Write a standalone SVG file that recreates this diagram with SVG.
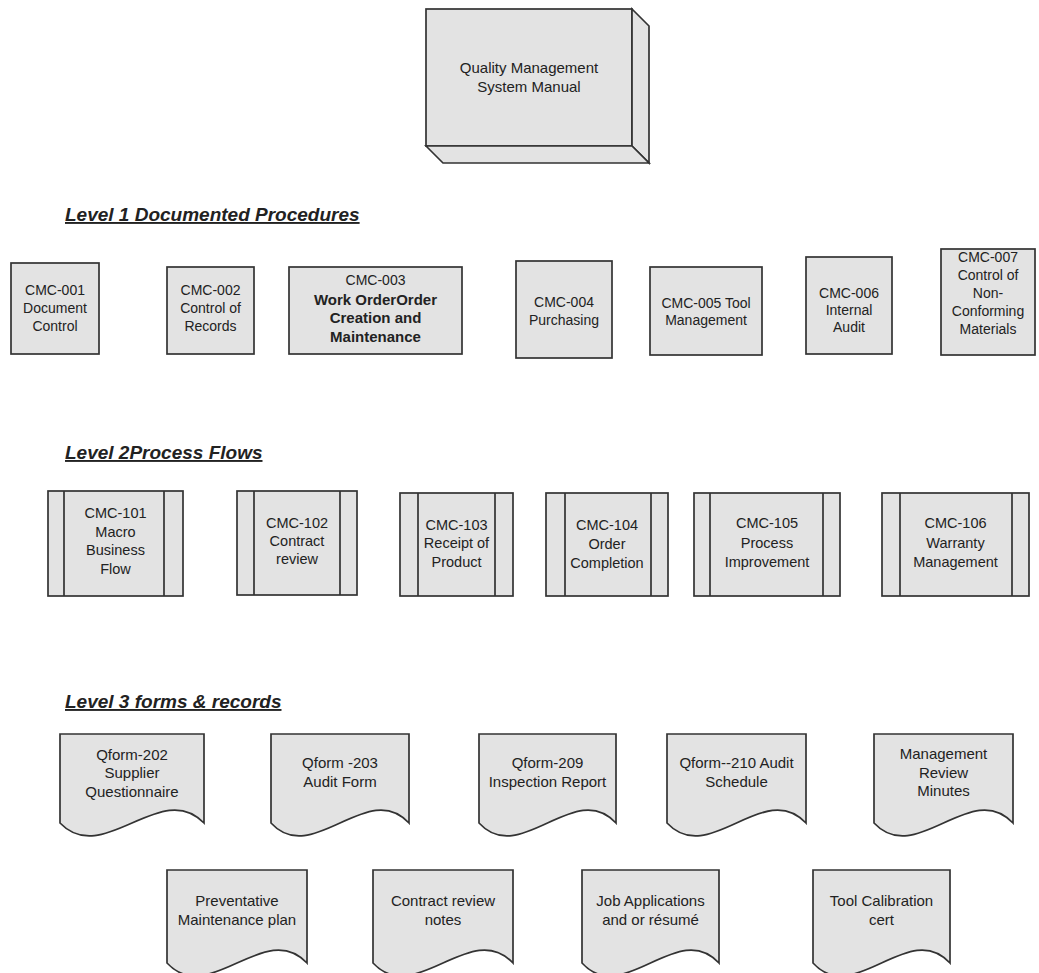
<svg xmlns="http://www.w3.org/2000/svg" width="1039" height="973" viewBox="0 0 1039 973">
<style>
.bx{fill:#e3e3e3;stroke:#333;stroke-width:1.7}
.ln{fill:none;stroke:#333;stroke-width:1.7}
.t{font-family:"Liberation Sans",Arial,sans-serif;font-size:14px;fill:#222;text-anchor:middle}
.m{font-size:14.5px}
.l{font-size:15px}
.b{font-weight:bold;font-size:15px}
.h{font-family:"Liberation Sans",Arial,sans-serif;font-size:19px;font-weight:bold;font-style:italic;fill:#222;text-decoration:underline}
</style>
<rect width="1039" height="973" fill="#fff"/>

<g id="manual">
<rect class="bx" x="426" y="9" width="206" height="137"/>
<polygon class="bx" points="632,9 649,26 649,163 632,146"/>
<polygon class="bx" points="426,146 443,163 649,163 632,146"/>
<text class="t l" x="529" y="73">Quality Management</text>
<text class="t l" x="529" y="92">System Manual</text>
</g>

<g id="headers">
<text class="h" x="65" y="221">Level 1 Documented Procedures</text>
<text class="h" x="65" y="459">Level 2Process Flows</text>
<text class="h" x="65" y="708">Level 3 forms &amp; records</text>
</g>

<g id="cmc001"><rect class="bx" x="11" y="263" width="88" height="91"/>
<text class="t" x="55" y="295">CMC-001</text><text class="t" x="55" y="313">Document</text><text class="t" x="55" y="331">Control</text></g>
<g id="cmc002"><rect class="bx" x="167" y="267" width="87" height="87"/>
<text class="t" x="210.5" y="295">CMC-002</text><text class="t" x="210.5" y="313">Control of</text><text class="t" x="210.5" y="331">Records</text></g>
<g id="cmc003"><rect class="bx" x="289" y="267" width="173" height="87"/>
<text class="t" x="375.5" y="285">CMC-003</text><text class="t b" x="375.5" y="305">Work OrderOrder</text><text class="t b" x="375.5" y="323">Creation and</text><text class="t b" x="375.5" y="342">Maintenance</text></g>
<g id="cmc004"><rect class="bx" x="516" y="261" width="96" height="97"/>
<text class="t" x="564" y="307">CMC-004</text><text class="t" x="564" y="325">Purchasing</text></g>
<g id="cmc005"><rect class="bx" x="650" y="267" width="112" height="88"/>
<text class="t" x="706" y="308">CMC-005 Tool</text><text class="t" x="706" y="325">Management</text></g>
<g id="cmc006"><rect class="bx" x="806" y="257" width="86" height="97"/>
<text class="t" x="849" y="298">CMC-006</text><text class="t" x="849" y="315">Internal</text><text class="t" x="849" y="332">Audit</text></g>
<g id="cmc007"><rect class="bx" x="941" y="249" width="94" height="106"/>
<text class="t" x="988" y="262">CMC-007</text><text class="t" x="988" y="280">Control of</text><text class="t" x="988" y="298">Non-</text><text class="t" x="988" y="316">Conforming</text><text class="t" x="988" y="334">Materials</text></g>

<g id="cmc101"><rect class="bx" x="48" y="491" width="135" height="105"/><path class="ln" d="M64,491V596M164,491V596"/>
<text class="t m" x="115.5" y="518">CMC-101</text><text class="t m" x="115.5" y="537">Macro</text><text class="t m" x="115.5" y="555">Business</text><text class="t m" x="115.5" y="574">Flow</text></g>
<g id="cmc102"><rect class="bx" x="237" y="491" width="120" height="104"/><path class="ln" d="M254,491V595M340,491V595"/>
<text class="t m" x="297" y="528">CMC-102</text><text class="t m" x="297" y="546">Contract</text><text class="t m" x="297" y="564">review</text></g>
<g id="cmc103"><rect class="bx" x="400" y="493" width="113" height="103"/><path class="ln" d="M418,493V596M495,493V596"/>
<text class="t m" x="456.5" y="530">CMC-103</text><text class="t m" x="456.5" y="548">Receipt of</text><text class="t m" x="456.5" y="567">Product</text></g>
<g id="cmc104"><rect class="bx" x="546" y="493" width="122" height="103"/><path class="ln" d="M565,493V596M651,493V596"/>
<text class="t m" x="607" y="530">CMC-104</text><text class="t m" x="607" y="549">Order</text><text class="t m" x="607" y="568">Completion</text></g>
<g id="cmc105"><rect class="bx" x="694" y="493" width="146" height="103"/><path class="ln" d="M710,493V596M823,493V596"/>
<text class="t m" x="767" y="528">CMC-105</text><text class="t m" x="767" y="548">Process</text><text class="t m" x="767" y="567">Improvement</text></g>
<g id="cmc106"><rect class="bx" x="882" y="493" width="147" height="103"/><path class="ln" d="M900,493V596M1012,493V596"/>
<text class="t m" x="955.5" y="528">CMC-106</text><text class="t m" x="955.5" y="548">Warranty</text><text class="t m" x="955.5" y="567">Management</text></g>

<g id="qf202"><path class="bx" d="M60,734H204V823C161,778 103,868 60,823Z"/>
<text class="t l" x="132" y="760">Qform-202</text><text class="t l" x="132" y="778">Supplier</text><text class="t l" x="132" y="797">Questionnaire</text></g>
<g id="qf203"><path class="bx" d="M271,734H409V823C368,778 312,868 271,823Z"/>
<text class="t l" x="340" y="768">Qform -203</text><text class="t l" x="340" y="787">Audit Form</text></g>
<g id="qf209"><path class="bx" d="M479,734H616V823C575,778 520,868 479,823Z"/>
<text class="t l" x="547.5" y="768">Qform-209</text><text class="t l" x="547.5" y="787">Inspection Report</text></g>
<g id="qf210"><path class="bx" d="M667,734H806V823C764,778 709,868 667,823Z"/>
<text class="t l" x="736.5" y="768">Qform--210 Audit</text><text class="t l" x="736.5" y="787">Schedule</text></g>
<g id="mgmt"><path class="bx" d="M874,734H1013V823C971,778 916,868 874,823Z"/>
<text class="t l" x="943.5" y="759">Management</text><text class="t l" x="943.5" y="778">Review</text><text class="t l" x="943.5" y="796">Minutes</text></g>

<g id="prev"><path class="bx" d="M167,870H307V963C265,918 209,1008 167,963Z"/>
<text class="t l" x="237" y="906">Preventative</text><text class="t l" x="237" y="925">Maintenance plan</text></g>
<g id="crn"><path class="bx" d="M373,870H513V963C471,918 415,1008 373,963Z"/>
<text class="t l" x="443" y="906">Contract review</text><text class="t l" x="443" y="925">notes</text></g>
<g id="job"><path class="bx" d="M582,870H719V963C678,918 623,1008 582,963Z"/>
<text class="t l" x="650.5" y="906">Job Applications</text><text class="t l" x="650.5" y="925">and or résumé</text></g>
<g id="tool"><path class="bx" d="M813,870H950V963C909,918 854,1008 813,963Z"/>
<text class="t l" x="881.5" y="906">Tool Calibration</text><text class="t l" x="881.5" y="925">cert</text></g>

<g id="connectors"></g>
</svg>
